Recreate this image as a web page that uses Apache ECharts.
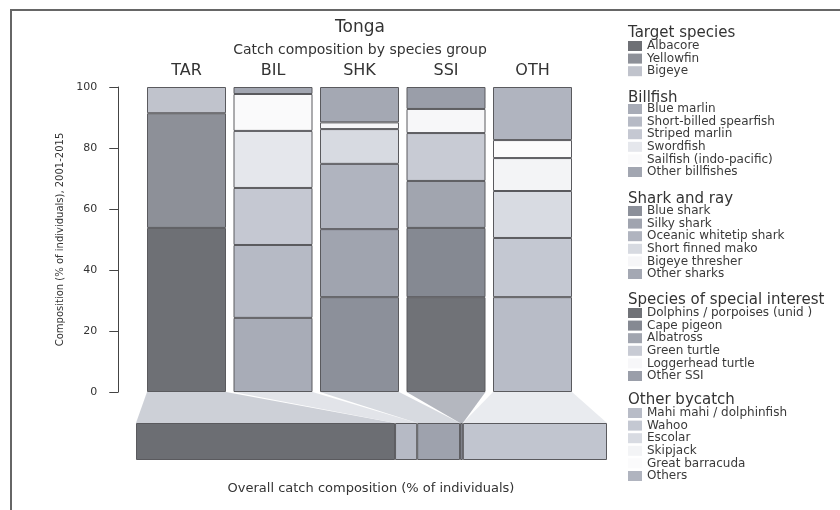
<!DOCTYPE html>
<html>
<head>
<meta charset="utf-8">
<script src="https://cdn.jsdelivr.net/npm/echarts@6/dist/echarts.min.js"></script>
<style>
  html, body { margin: 0; padding: 0; background: #fff; }
  #main { width: 840px; height: 510px; }
</style>
</head>
<body>
<div id="main"></div>
<script>
// group columns
var categories = ['TAR', 'BIL', 'SHK', 'SSI', 'OTH'];
var groupNames = ['Target species', 'Billfish', 'Shark and ray', 'Species of special interest', 'Other bycatch'];

// species and their share (% of individuals) inside each group
var tarSpecies = ['Albacore', 'Yellowfin', 'Bigeye'];
var tarValues = [53.8, 37.6, 8.6];
var bilSpecies = ['Blue marlin', 'Short-billed spearfish', 'Striped marlin', 'Swordfish', 'Sailfish (indo-pacific)', 'Other billfishes'];
var bilValues = [24.3, 23.9, 18.7, 18.7, 12.1, 2.3];
var shkSpecies = ['Blue shark', 'Silky shark', 'Oceanic whitetip shark', 'Short finned mako', 'Bigeye thresher', 'Other sharks'];
var shkValues = [31.1, 22.3, 21.4, 11.4, 2.2, 11.6];
var ssiSpecies = ['Dolphins / porpoises (unid )', 'Cape pigeon', 'Albatross', 'Green turtle', 'Loggerhead turtle', 'Other SSI'];
var ssiValues = [31.1, 22.7, 15.4, 15.7, 7.9, 7.2];
var othSpecies = ['Mahi mahi / dolphinfish', 'Wahoo', 'Escolar', 'Skipjack', 'Great barracuda', 'Others'];
var othValues = [31.1, 19.4, 15.4, 10.8, 5.9, 17.4];

// overall composition of the catch by group
var overallValues = [55.0, 4.7, 9.1, 0.6, 30.6];

// y axis ticks
var yTicks = [0, 20, 40, 60, 80, 100];

// greys of the scanned figure
var tarColors = ['#6e7075', '#8d9098', '#c0c3cc'];
var bilColors = ['#a8acb7', '#b6bac5', '#c5c8d2', '#e5e7ec', '#fafafb', '#a2a6b1'];
var shkColors = ['#8c909a', '#a0a4af', '#b0b4bf', '#d7dae1', '#f6f6f8', '#a4a8b3'];
var ssiColors = ['#707277', '#858992', '#a1a5af', '#c8cbd4', '#f7f7f9', '#9a9ea9'];
var othColors = ['#b8bcc7', '#c4c8d2', '#d8dbe2', '#f3f4f6', '#fbfbfc', '#b0b4bf'];
var overallColors = ['#6c6e73', '#b6bac5', '#9ea2ad', '#888b94', '#c1c5cf'];
var connectorColors = ['#c8cbd3', '#dfe1e7', '#d3d6dd', '#acafb8', '#e7e9ed'];

var groups = [
  { species: tarSpecies, values: tarValues, colors: tarColors },
  { species: bilSpecies, values: bilValues, colors: bilColors },
  { species: shkSpecies, values: shkValues, colors: shkColors },
  { species: ssiSpecies, values: ssiValues, colors: ssiColors },
  { species: othSpecies, values: othValues, colors: othColors }
];

var FONT = '"DejaVu Sans", "Liberation Sans", sans-serif';
var barW = 79;
var overallTop = 423, overallH = 37;

var series = [];
groups.forEach(function (g, gi) {
  g.species.forEach(function (name, si) {
    series.push({
      name: name,
      type: 'bar',
      stack: 'groups',
      xAxisIndex: 0,
      yAxisIndex: 0,
      barWidth: barW,
      itemStyle: { color: g.colors[si], borderColor: '#5a5a5e', borderWidth: 1 },
      data: categories.map(function (c, ci) { return ci === gi ? g.values[si] : null; })
    });
  });
});
overallValues.forEach(function (v, i) {
  series.push({
    name: categories[i] + ' overall',
    type: 'bar',
    stack: 'overall',
    xAxisIndex: 1,
    yAxisIndex: 1,
    barWidth: '100%',
    itemStyle: { color: overallColors[i], borderColor: '#5a5a5e', borderWidth: 1 },
    data: [v]
  });
});

// legend blocks, one per group
var legendTops = [40, 103, 205, 307, 407];
var headingY = [33, 98, 199, 300, 400];
var legends = groups.map(function (g, gi) {
  return {
    orient: 'vertical',
    left: 628,
    top: legendTops[gi],
    padding: 0,
    itemWidth: 14,
    itemHeight: 10,
    itemGap: 0.6,
    icon: 'rect',
    selectedMode: false,
    itemStyle: { borderWidth: 0 },
    textStyle: { fontFamily: FONT, fontSize: 12, lineHeight: 12, color: '#3a3a3a' },
    data: g.species
  };
});

var graphics = [
  { type: 'line', shape: { x1: 11, y1: 10, x2: 11, y2: 510 }, style: { stroke: '#666', lineWidth: 2 } },
  { type: 'line', shape: { x1: 10, y1: 10, x2: 840, y2: 10 }, style: { stroke: '#666', lineWidth: 2 } },
  { type: 'text', x: 360, y: 28, style: { text: 'Tonga', font: '17px ' + FONT, fill: '#333', textAlign: 'center', textVerticalAlign: 'middle' } },
  { type: 'text', x: 360, y: 50, style: { text: 'Catch composition by species group', font: '14px ' + FONT, fill: '#333', textAlign: 'center', textVerticalAlign: 'middle' } },
  { type: 'text', x: 371, y: 489, style: { text: 'Overall catch composition (% of individuals)', font: '13px ' + FONT, fill: '#333', textAlign: 'center', textVerticalAlign: 'middle' } }
];
groupNames.forEach(function (name, gi) {
  graphics.push({ type: 'text', x: 628, y: headingY[gi], style: { text: name, font: '15px ' + FONT, fill: '#333', textAlign: 'left', textVerticalAlign: 'middle' } });
});

var option = {
  backgroundColor: '#fff',
  animation: false,
  legend: legends,
  grid: [
    { left: 143.25, top: 87, width: 432.5, height: 305 },
    { left: 136, top: overallTop, width: 471, height: overallH }
  ],
  xAxis: [
    {
      type: 'category', gridIndex: 0, position: 'top', data: categories,
      axisLine: { show: false }, axisTick: { show: false },
      axisLabel: { fontFamily: FONT, fontSize: 16, color: '#333', margin: 8 }
    },
    { type: 'value', gridIndex: 1, min: 0, max: 100, show: false }
  ],
  yAxis: [
    {
      type: 'value', gridIndex: 0, min: yTicks[0], max: yTicks[yTicks.length - 1], interval: 20,
      offset: 25,
      name: 'Composition (% of individuals), 2001-2015',
      nameLocation: 'middle', nameGap: 48,
      nameTextStyle: { fontFamily: FONT, fontSize: 10, color: '#333' },
      axisLine: { show: true, lineStyle: { color: '#444', width: 1 } },
      axisTick: { show: true, length: 9, lineStyle: { color: '#444' } },
      axisLabel: { fontFamily: FONT, fontSize: 11, color: '#333', margin: 21 },
      splitLine: { show: false }
    },
    { type: 'category', gridIndex: 1, data: ['all'], show: false }
  ],
  series: series,
  graphic: graphics
};

var chart = echarts.init(document.getElementById('main'));
chart.setOption(option);

// connectors between each group bar and its slice of the overall bar
var yBase = chart.convertToPixel({ yAxisIndex: 0 }, 0);
var cum = 0;
categories.forEach(function (c, i) {
  var xc = chart.convertToPixel({ xAxisIndex: 0 }, c);
  var xb0 = chart.convertToPixel({ xAxisIndex: 1 }, cum);
  var xb1 = chart.convertToPixel({ xAxisIndex: 1 }, cum + overallValues[i]);
  cum += overallValues[i];
  graphics.push({
    type: 'polygon',
    z: -1,
    shape: { points: [[xc - barW / 2, yBase], [xc + barW / 2, yBase], [xb1, overallTop], [xb0, overallTop]] },
    style: { fill: connectorColors[i], opacity: 0.9 }
  });
});
chart.setOption({ graphic: graphics });
</script>
</body>
</html>
